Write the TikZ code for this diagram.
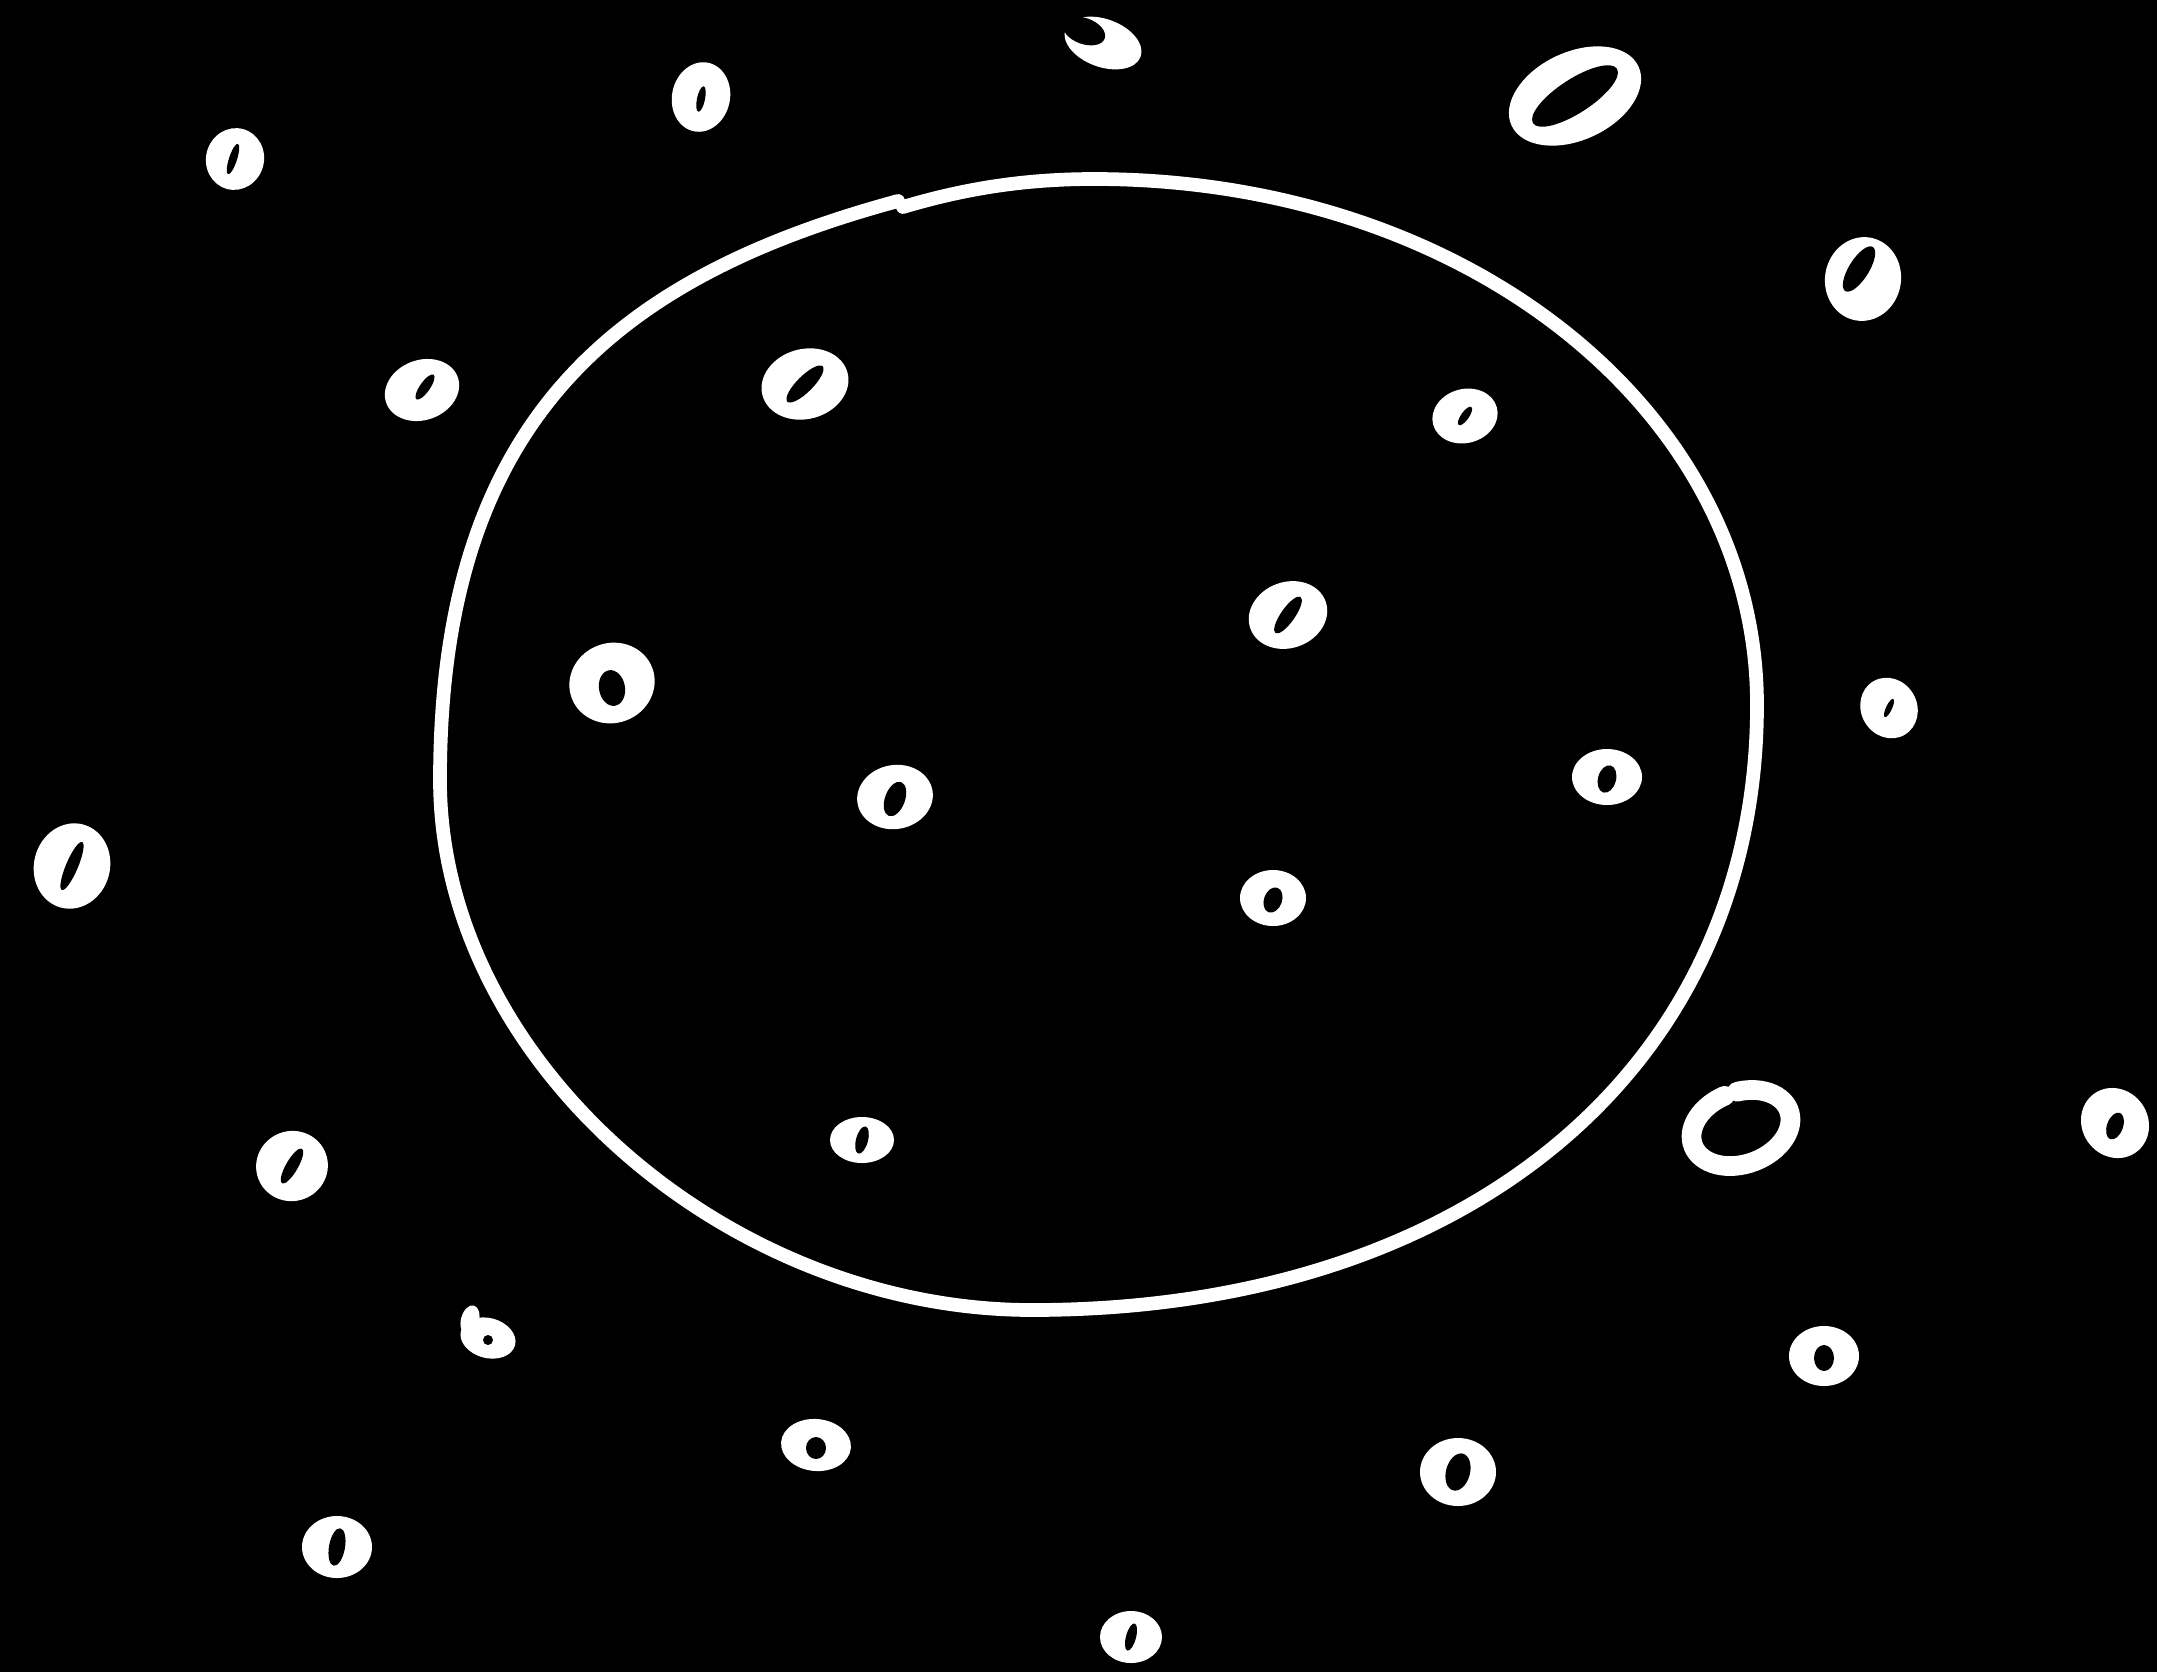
\documentclass[tikz,border=0pt]{standalone}
\begin{document}
\begin{tikzpicture}[x=0.01cm, y=-0.01cm,
  rim/.style={draw=white, line width=3.9pt, line cap=round, line join=round},
  speck/.style={fill=white},
  pit/.style={fill=black},
  loop/.style={draw=white, line width=5.6pt, line cap=round}]
  % Background
  \fill[black] (0,0) rectangle (2157,1672);
  \useasboundingbox (0,0) rectangle (2157,1672);

  % Big outline
  \coordinate (top) at (1094,179);
  \coordinate (right) at (1757,705);
  \coordinate (bottom) at (1032,1310);
  \coordinate (left) at (440,780);
  \coordinate (kink) at (903,207);
  \draw[rim] (kink) .. controls (960,190) and (1020,179) .. (top)
    .. controls (1465,179) and (1757,410) .. (right)
    .. controls (1757,1068) and (1467,1310) .. (bottom)
    .. controls (726,1310) and (440,1060) .. (left)
    .. controls (440,421) and (614,278) .. (898,201);

  % Specks: x/y/rx/ry/rot/dx/dy/hole rx/hole ry/hole rot
  \foreach \sx/\sy/\sa/\sb/\sr/\dx/\dy/\ha/\hb/\hr in {
      235/159/29/31/-15/-2/0/4/16/-18,
      701/97/29/35/-12/0/2/4/13/-12,
      1575/96/70/44/25/0/0/50/17/33,
      1863/279/38/42/-10/-4/-10/26/10/58,
      422/390/38/30/20/3/-3/5/15/-35,
      805/384/44/35/15/0/0/25/8/45,
      1465/416/33/27/15/0/0/11/4/55,
      1288/615/40/33/20/0/0/22/7/55,
      612/683/43/40/20/0/5/13/18/10,
      895/797/38/32/10/0/2/10/18/-20,
      1889/708/28/31/30/0/0/3/10/-25,
      1607/777/35/28/0/0/2/9/14/-15,
      1273/898/33/28/0/0/2/9/13/-20,
      72/866/38/43/-15/0/0/6/26/-23,
      292/1166/36/35/20/0/0/6/20/-30,
      862/1140/32/23/0/0/0/6/14/-15,
      2115/1123/33/36/35/0/3/8/14/-20,
      488/1338/28/20/-15/0/2/5/5/0,
      1824/1356/35/30/0/0/2/10/13/0,
      816/1445/35/26/-5/0/3/10/11/0,
      1458/1472/38/34/0/0/0/12/19/-15,
      337/1547/35/31/0/0/0/8/19/-10,
      1131/1637/31/26/0/0/0/5/14/-15}{
    \fill[speck, rotate around={\sr:(\sx,\sy)}] (\sx,\sy) ellipse [x radius=\sa, y radius=\sb];
    \fill[pit, rotate around={\hr:(\sx+\dx,\sy+\dy)}] (\sx+\dx,\sy+\dy) ellipse [x radius=\ha, y radius=\hb];
  }

  % Stem of the small speck, lower left
  \fill[speck, rotate around={-15:(470,1320)}] (470,1320) ellipse [x radius=9, y radius=15];

  % Crescent at the top
  \fill[speck, rotate around={-20:(1103,43)}] (1103,43) ellipse [x radius=40, y radius=24];
  \fill[pit, rotate around={-20:(1084,31)}] (1084,31) ellipse [x radius=22, y radius=13];

  % Open ring, lower right
  \draw[loop, rotate around={20:(1741,1128)}] (1741,1128) ++(280:51 and 36)
    arc [start angle=280, end angle=625, x radius=51, y radius=36];
\end{tikzpicture}
\end{document}
